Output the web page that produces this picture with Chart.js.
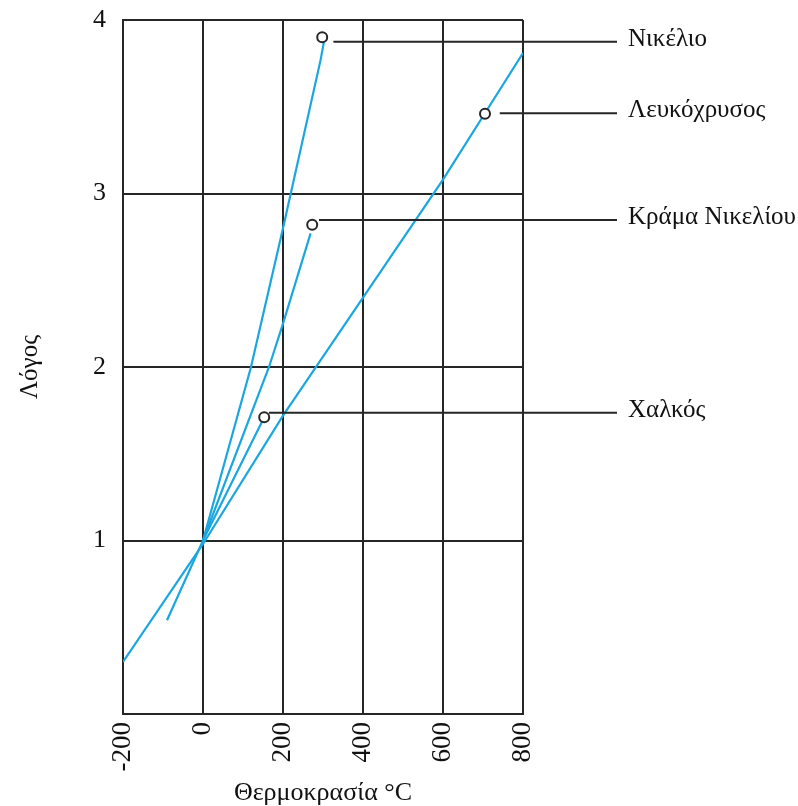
<!DOCTYPE html>
<html>
<head>
<meta charset="utf-8">
<script src="https://cdn.jsdelivr.net/npm/chart.js@4"></script>
<style>
  body { margin: 0; background: #ffffff; }
  #wrap { width: 798px; height: 806px; }
</style>
</head>
<body>
<div id="wrap"><canvas id="tempChart"></canvas></div>
<script>
// Values (x = temperature in °C, y = ratio)
const names = ["Νικέλιο", "Λευκόχρυσος", "Κράμα Νικελίου", "Χαλκός"];

const nickelX = [0, 120, 200, 294, 302];
const nickelY = [1.0, 2.0, 2.8, 3.77, 3.87];

const platinumX = [-200, 0, 200, 400, 600, 800];
const platinumY = [0.30, 0.98, 1.72, 2.40, 3.08, 3.81];

const alloyX = [0, 165, 200, 269];
const alloyY = [1.0, 2.0, 2.25, 2.77];

const copperX = [-90, 0, 112, 153];
const copperY = [0.54, 1.0, 1.52, 1.71];

// label markers (circles) and leader lines
const markerX = [298, 705, 273, 153];
const markerY = [3.90, 3.46, 2.82, 1.71];
const leaderStartX = [326, 742, 290, 165];
const leaderEndX = [1035, 1035, 1035, 1035];
const leaderY = [3.875, 3.462, 2.847, 1.737];

const xTicks = [-200, 0, 200, 400, 600, 800];
const yTicks = [0, 1, 2, 3, 4];

const blue = "#1ba7de";
const ink = "#262626";
const serif = "'Liberation Serif', 'Times New Roman', serif";

function pts(xs, ys) {
    return xs.map((x, i) => ({ x: x, y: ys[i] }));
}

const curves = [
    [nickelX, nickelY],
    [platinumX, platinumY],
    [alloyX, alloyY],
    [copperX, copperY],
];

const datasets = [];

curves.forEach((c, i) => {
    datasets.push({
        label: names[i],
        data: pts(c[0], c[1]),
        showLine: true,
        borderColor: blue,
        borderWidth: 2.2,
        pointRadius: 0,
        order: 3,
    });
});

names.forEach((n, i) => {
    datasets.push({
        label: "leader " + n,
        data: [{ x: leaderStartX[i], y: leaderY[i] }, { x: leaderEndX[i], y: leaderY[i] }],
        showLine: true,
        borderColor: ink,
        borderWidth: 2,
        pointRadius: 0,
        clip: false,
        order: 2,
        isLeader: true,
        caption: n,
    });
});

datasets.push({
    label: "markers",
    data: pts(markerX, markerY),
    showLine: false,
    pointRadius: 5,
    pointBackgroundColor: "#ffffff",
    pointBorderColor: ink,
    pointBorderWidth: 2,
    clip: false,
    order: 1,
});

// write the material names at the end of the leader lines
const captionPlugin = {
    id: "captions",
    afterDatasetsDraw(chart) {
        const ctx = chart.ctx;
        ctx.save();
        ctx.font = "25px " + serif;
        ctx.fillStyle = "#111111";
        ctx.textAlign = "left";
        ctx.textBaseline = "alphabetic";
        chart.data.datasets.forEach((ds, i) => {
            if (!ds.isLeader) return;
            const end = chart.getDatasetMeta(i).data[1];
            ctx.fillText(ds.caption, end.x + 11, end.y + 4);
        });
        ctx.restore();
    },
};

const chart = new Chart(document.getElementById("tempChart"), {
    type: "scatter",
    data: { datasets: datasets },
    options: {
        responsive: true,
        maintainAspectRatio: false,
        animation: false,
        layout: { padding: { top: 20, right: 275, bottom: 0, left: 0 } },
        plugins: {
            legend: { display: false },
            tooltip: { enabled: false },
        },
        scales: {
            x: {
                type: "linear",
                min: -200,
                max: 800,
                afterBuildTicks: (axis) => { axis.ticks = xTicks.map((v) => ({ value: v })); },
                afterFit: (axis) => {
                    axis.height = 92;
                    axis.paddingLeft = 0;
                    axis.paddingRight = 0;
                },
                ticks: {
                    minRotation: 90,
                    maxRotation: 90,
                    padding: 8,
                    color: "#111111",
                    font: { family: serif, size: 27 },
                },
                grid: { color: ink, lineWidth: 2, tickLength: 0 },
                border: { color: ink, width: 2 },
                title: {
                    display: true,
                    text: "Θερμοκρασία °C",
                    color: "#111111",
                    font: { family: serif, size: 26, lineHeight: 1 },
                    padding: { top: 0, bottom: 0 },
                },
            },
            y: {
                type: "linear",
                min: 0,
                max: 4,
                afterBuildTicks: (axis) => { axis.ticks = yTicks.map((v) => ({ value: v })); },
                afterFit: (axis) => {
                    axis.width = 123;
                    axis.paddingTop = 0;
                    axis.paddingBottom = 0;
                },
                ticks: {
                    padding: 17,
                    color: "#111111",
                    font: { family: serif, size: 26 },
                    callback: (v) => (v === 0 ? "" : v),
                },
                grid: { color: ink, lineWidth: 2, tickLength: 0 },
                border: { color: ink, width: 2 },
                title: {
                    display: true,
                    text: "Λόγος",
                    color: "#111111",
                    font: { family: serif, size: 25, lineHeight: 1 },
                    padding: { top: 18, bottom: 0 },
                },
            },
        },
    },
    plugins: [captionPlugin],
});
</script>
</body>
</html>
